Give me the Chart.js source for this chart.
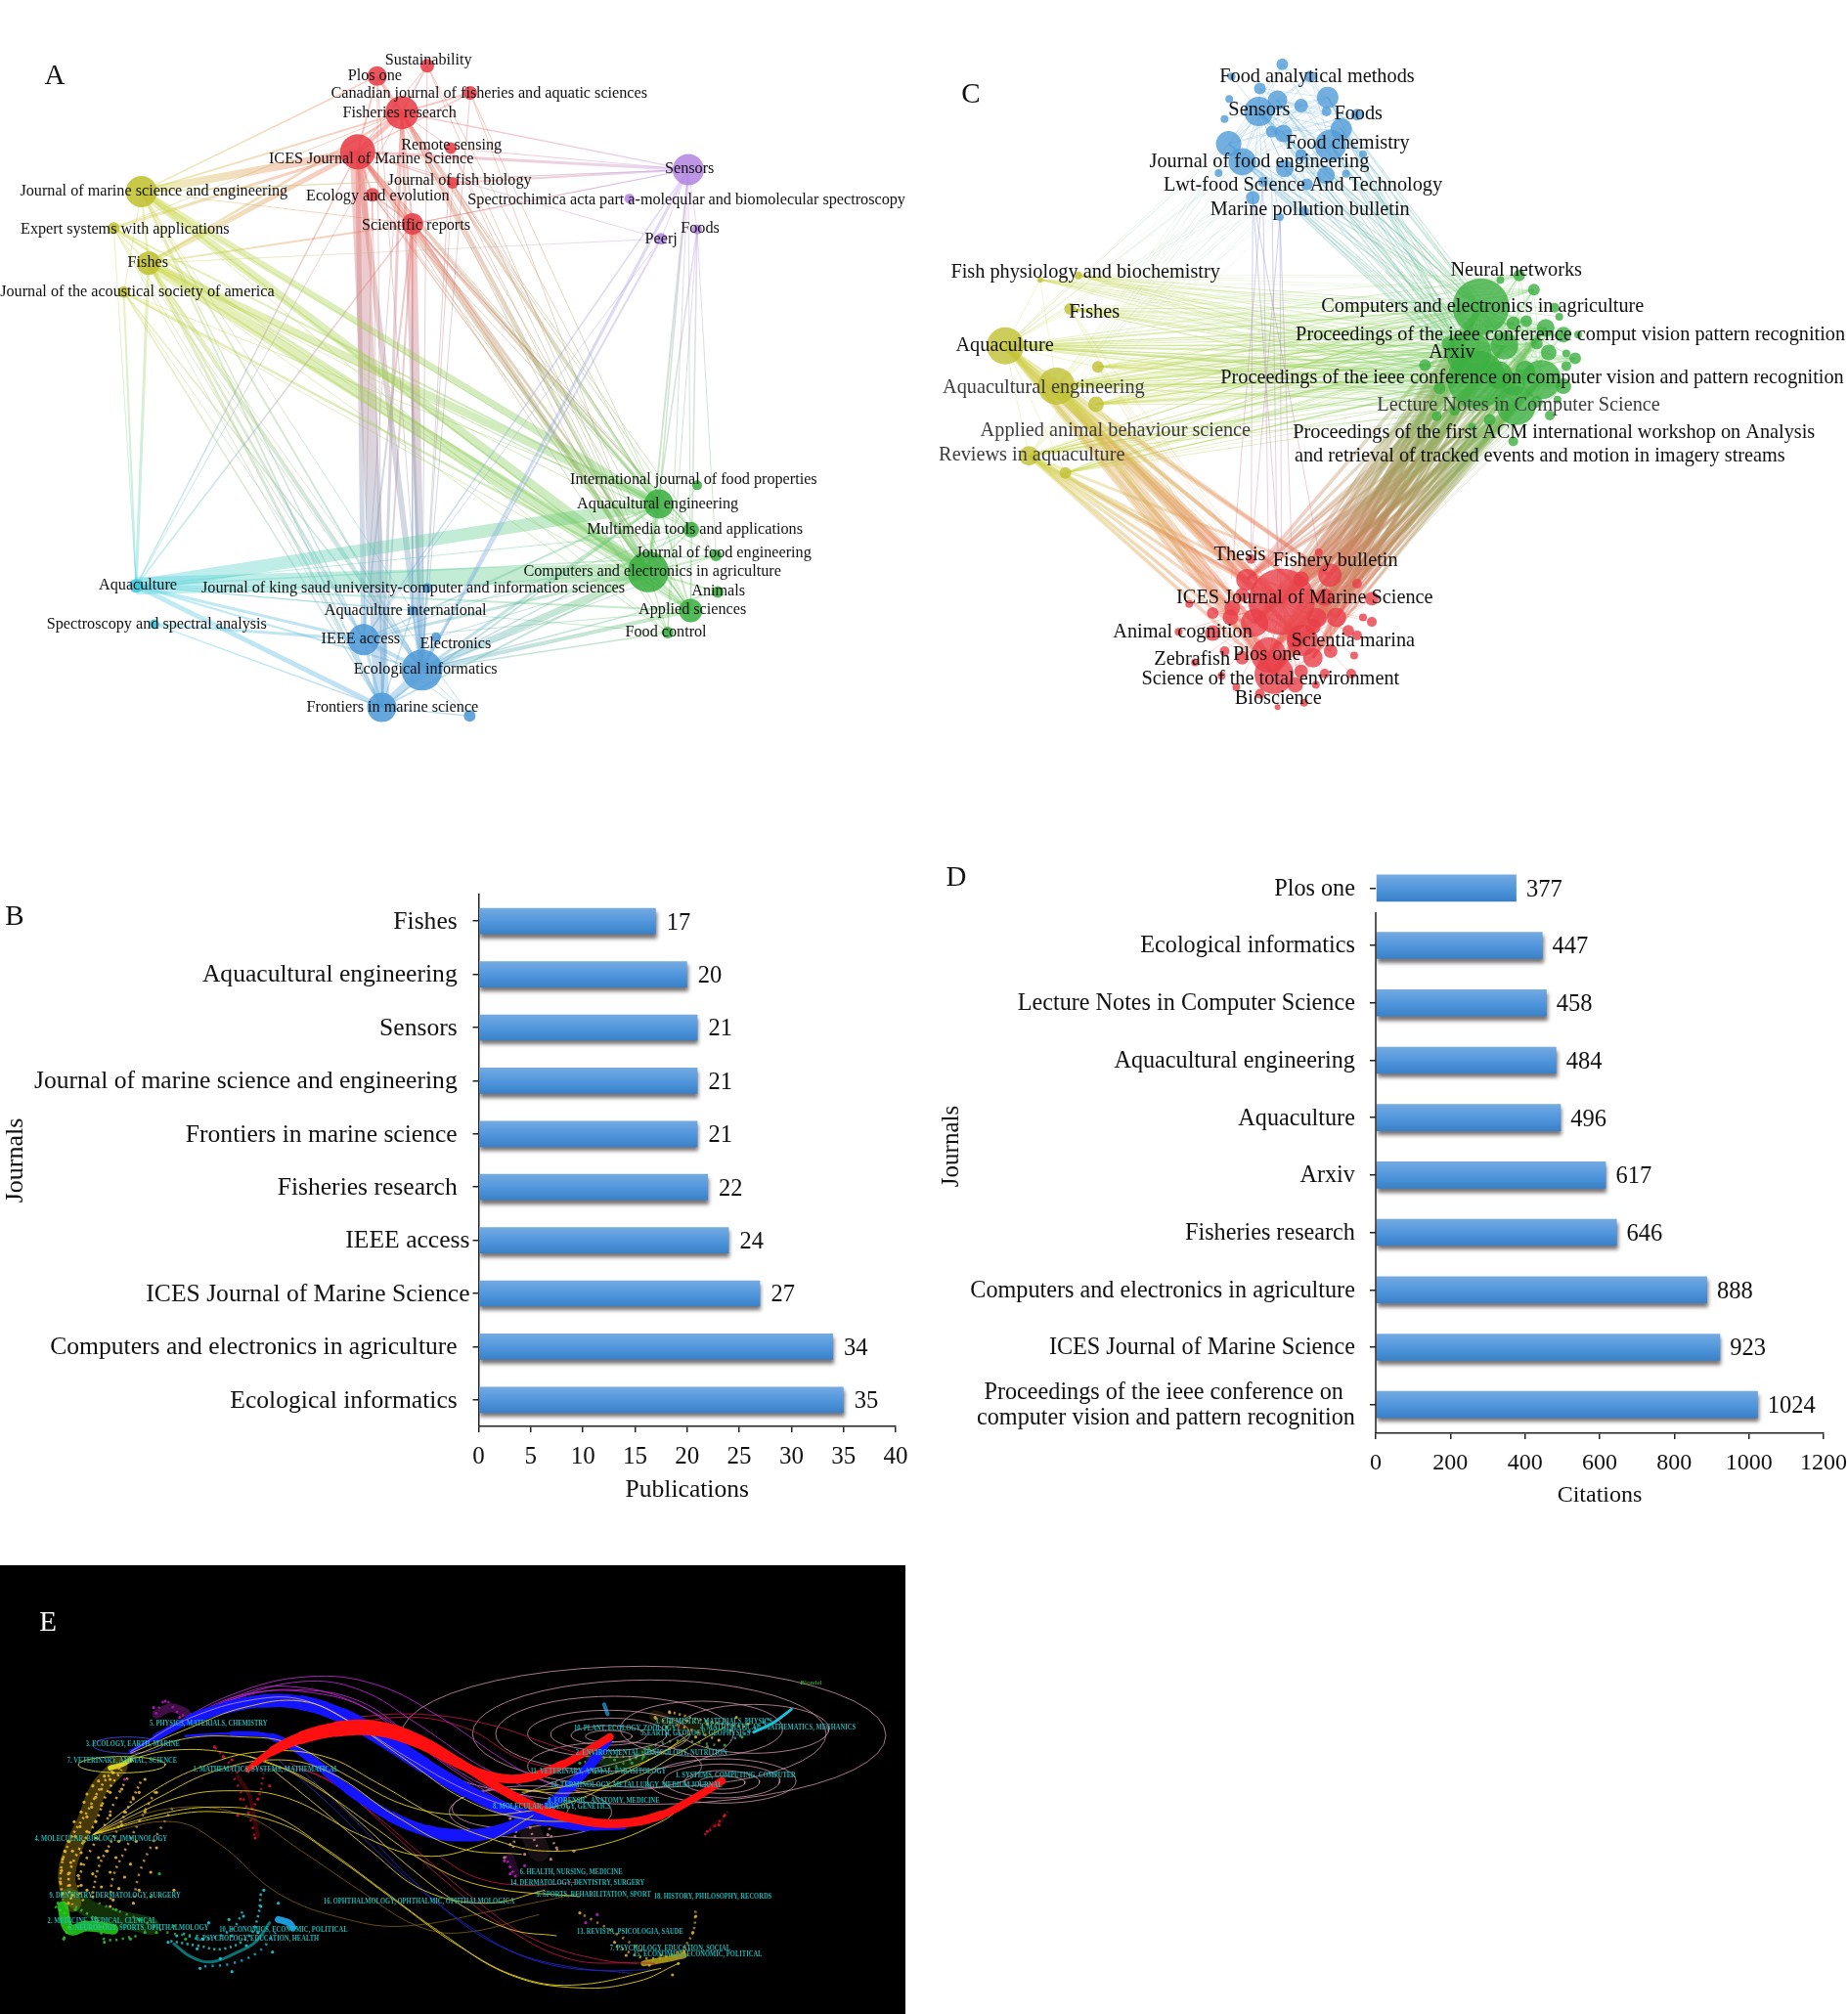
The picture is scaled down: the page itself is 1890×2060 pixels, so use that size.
<!DOCTYPE html>
<html><head><meta charset="utf-8">
<script src="https://cdn.jsdelivr.net/npm/chart.js@4"></script>
<style>html,body{margin:0;padding:0;background:#fff;width:1890px;height:2060px;overflow:hidden;position:relative}canvas{position:absolute;display:block}</style>
</head><body>
<script>
const SERIF='"Liberation Serif","Times New Roman",serif';
/* ---------- Panel B ---------- */
const bJournals=['Fishes','Aquacultural engineering','Sensors','Journal of marine science and engineering','Frontiers in marine science','Fisheries research','IEEE access','ICES Journal of Marine Science','Computers and electronics in agriculture','Ecological informatics'];
const bPublications=[17,20,21,21,21,22,24,27,34,35];
const bTicks=[0,5,10,15,20,25,30,35,40];
/* ---------- Panel D ---------- */
const dJournals=['Plos one','Ecological informatics','Lecture Notes in Computer Science','Aquacultural engineering','Aquaculture','Arxiv','Fisheries research','Computers and electronics in agriculture','ICES Journal of Marine Science',['Proceedings of the ieee conference on','computer vision and pattern recognition']];
const dCitations=[377,447,458,484,496,617,646,888,923,1024];
const dTicks=[0,200,400,600,800,1000,1200];
const nearAxis=['IEEE access','ICES Journal of Marine Science'];
/* ---------- Panel A network ---------- */
const groupRGB={red:'232,62,72',yellow:'192,192,50',purple:'180,135,225',green:'60,175,65',cyan:'60,200,220',blue:'80,155,215'};
const edgeRGB={red:'238,105,95',yellow:'205,215,70',purple:'190,150,230',green:'105,200,95',cyan:'80,210,225',blue:'95,170,220'};
const aNodes=[['ICES',607,262,18,'red'],['FR',682,178,17,'red'],['PLOS',640,100,10,'red'],['SUS',725,78,7,'red'],['CAN',798,136,7,'red'],['RS',765,254,6,'red'],['JFB',768,328,6,'red'],['EE',632,354,7,'red'],['SR',700,416,11,'red'],
['JMSE',240,347,16,'yellow'],['EXP',193,425,6,'yellow'],['FISH',252,500,12,'yellow'],['JASA',210,562,6,'yellow'],
['SEN',1168,300,16,'purple'],['SPEC',1068,362,5,'purple'],['PEER',1122,448,6,'purple'],['FOOD',1183,428,5,'purple'],
['IJFP',1183,975,5,'green'],['AE',1118,1015,15,'green'],['MTA',1173,1070,8,'green'],['JFE',1215,1125,6,'green'],['CEA',1100,1160,21,'green'],['ANI',1218,1203,6,'green'],['APP',1172,1243,12,'green'],['FC',1133,1290,6,'green'],
['AQ',231,1190,7,'cyan'],['SSA',262,1272,5,'cyan'],
['IEEE',617,1305,16,'blue'],['ELE',740,1300,5,'blue'],['EI',716,1370,21,'blue'],['FMS',648,1450,15,'blue'],['UNK',797,1468,6,'blue'],['KS',725,1195,5,'blue'],['AI',700,1243,5,'blue']];
const aEdges=`ICES-FMS-16 ICES-IEEE-5 ICES-EI-6 SR-EI-8 SR-IEEE-2 SR-FMS-2 FR-ICES-5 FR-FMS-3 FR-EI-3 FR-IEEE-1 EE-ICES-2 JMSE-ICES-8 FISH-ICES-5 EXP-ICES-3 JMSE-PLOS-1.5 JMSE-FR-2 FISH-FR-2.5 EXP-FR-1 JMSE-SR-1 FISH-SR-2 JMSE-CEA-9 JMSE-AE-7 FISH-CEA-12 FISH-AE-8 FISH-APP-2 EXP-CEA-3 EXP-AE-2 JASA-CEA-2.5 JMSE-APP-2 FISH-MTA-1.5 FISH-EI-4 FISH-FMS-3 FISH-IEEE-2.5 JMSE-EI-2 JMSE-IEEE-1.5 JMSE-FMS-2 JASA-FMS-1.5 JASA-EI-1.5 JASA-AQ-2 FISH-AQ-3 EXP-AQ-1 EXP-EI-1 AQ-CEA-18 AQ-AE-13 AQ-EI-2 AQ-IEEE-3 AQ-FMS-5 AQ-SR-1.5 AQ-ICES-1.5 AQ-FR-1 AQ-APP-2 AQ-JFE-1.5 AQ-MTA-1 AQ-FC-1 EI-CEA-7 EI-AE-3 EI-APP-4 EI-FC-1.5 IEEE-CEA-3 IEEE-AE-2 FMS-CEA-2 FMS-AE-2 FMS-EI-8 IEEE-EI-4 IEEE-FMS-3 SSA-IEEE-3 SSA-FMS-1.5 FMS-UNK-1.5 EI-UNK-1 IEEE-UNK-1 ICES-CEA-4 ICES-AE-3 FR-CEA-4 FR-AE-3 SR-CEA-4 SR-AE-2 SR-APP-1.5 FR-APP-1 ICES-APP-1.5 EE-CEA-1.5 RS-CEA-1 SEN-ICES-3 SEN-FR-1.5 SEN-SR-1 SEN-JMSE-1 SEN-EI-3 SEN-IEEE-1.5 SEN-CEA-2 SEN-AE-1.5 SEN-APP-1 SEN-RS-1 SEN-JFB-2 PEER-EI-2 PEER-FISH-1 PEER-ICES-1 PEER-IEEE-1 FOOD-APP-1.5 FOOD-CEA-1.5 FOOD-FC-1 SEN-FOOD-1 SEN-PEER-1 SEN-FC-1 FOOD-JFE-1 PLOS-FR-3 PLOS-ICES-2 SUS-FR-1.5 CAN-FR-2 CAN-ICES-1.5 SUS-ICES-1 ICES-SR-4 FR-SR-2 EE-SR-2 JFB-ICES-1.5 PLOS-FMS-1 CAN-EI-1 SUS-EI-1 PLOS-EI-1 EE-FMS-1 RS-EI-1 CAN-CEA-1 JFB-CEA-1 SUS-CEA-1 CEA-AE-4 CEA-APP-3 CEA-JFE-2 CEA-FC-1.5 AE-APP-2 CEA-MTA-1.5 CEA-ANI-2 CEA-IJFP-1 MTA-AE-1 EI-JFE-1 EI-ANI-1.5 EI-MTA-1.5 IEEE-MTA-1 IEEE-APP-1 ELE-CEA-1 ELE-EI-2 KS-EI-1 KS-CEA-1 AI-EI-1.5 AI-FMS-1.5 AI-CEA-1 AQ-KS-1 AQ-AI-1 JMSE-JASA-1 EXP-FISH-1.5 JMSE-FISH-2 JMSE-SEN-1 FR-RS-1 SR-SEN-1 FR-MTA-1 ICES-MTA-1 SR-JFE-1 RS-APP-1 JMSE-MTA-1 EXP-APP-1 JASA-AE-1 JASA-APP-1 FISH-JFE-1 FISH-FC-1 JMSE-FC-1 EE-AE-1 EE-APP-1 JFB-AE-1 CAN-AE-1 PLOS-CEA-1 SUS-AE-1 FR-JFE-1 FR-FC-1 ICES-FC-1 SR-MTA-1.5 FISH-UNK-1 JMSE-AI-1 JASA-IEEE-1 EXP-IEEE-1 EXP-FMS-1 SR-AI-1 EE-IEEE-1 JFB-EI-1`.split(' ');
const aLabels=[['Sustainability',727,66],['Plos one',636,100],['Canadian journal of fisheries and aquatic sciences',830,138],['Fisheries research',678,180],['Remote sensing',766,248],['ICES Journal of Marine Science',630,278],['Sensors',1170,298],['Journal of fish biology',780,324],['Journal of marine science and engineering',261,347],['Ecology and evolution',641,356],['Spectrochimica acta part a-moleqular and biomolecular spectroscopy',1165,365],['Expert systems with applications',212,428],['Scientific reports',706,420],['Foods',1188,427],['Peerj',1122,448],['Fishes',251,499],['Journal of the acoustical society of america',233,561],['International journal of food properties',1177,963],['Aquacultural engineering',1116,1016],['Multimedia tools and applications',1179,1069],['Journal of food engineering',1228,1120],['Computers and electronics in agriculture',1107,1160],['Journal of king saud university-computer and information sciences',701,1195],['Aquaculture',234,1190],['Animals',1219,1202],['Aquaculture international',688,1243],['Applied sciences',1175,1241],['Spectroscopy and spectral analysis',266,1272],['Food control',1130,1290],['IEEE access',612,1303],['Electronics',773,1314],['Ecological informatics',722,1369],['Frontiers in marine science',666,1450]];
/* ---------- Panel C network ---------- */
const cBlue=[[568,183,15],[690,258,16],[540,295,14],[517,255,13],[685,152,11],[708,222,11],[600,158,10],[610,232,9],[612,310,9],[682,325,9],[558,375,7],[640,170,7],[608,78,6],[655,105,6],[735,190,6],[590,228,6],[570,132,6],[650,345,6],[683,183,5],[645,405,5],[518,155,4],[510,200,4],[522,105,4],[604,418,4],[716,322,4],[745,278,4],[500,320,4],[575,340,5],[640,280,6]];
const cYellow=[[138,705,19],[225,795,19],[178,950,10],[292,835,8],[240,988,6],[295,752,6],[248,623,6],[262,548,4],[197,558,3]];
const cGreen=[[945,618,29],[938,780,30],[925,722,23],[1005,838,20],[1048,780,20],[985,705,14],[1020,760,10],[1055,665,9],[1085,680,8],[1085,795,8],[1000,655,7],[1010,548,6],[1035,580,6],[1105,733,6],[850,748,6],[875,800,6],[1022,650,6],[1040,700,6],[960,870,6],[1040,830,6],[1070,620,5],[1090,750,5],[870,862,5],[1000,918,5],[1062,860,5],[900,850,5],[978,558,4],[1078,640,4],[1110,680,4],[1090,722,4],[930,885,4],[1075,825,4],[1060,720,8],[975,770,14],[1000,790,12],[890,700,7]];
const cRed=[[607,1275,34],[585,1394,18],[594,1437,20],[642,1361,16],[561,1322,14],[548,1226,11],[689,1216,12],[700,1310,10],[667,1311,10],[660,1400,10],[660,1330,8],[490,1345,8],[520,1310,8],[630,1360,8],[760,1268,7],[690,1385,7],[640,1430,7],[630,1460,8],[540,1400,7],[490,1300,6],[523,1289,8],[720,1340,6],[555,1180,5],[735,1235,5],[760,1320,5],[735,1350,5],[725,1435,5],[570,1480,5],[510,1385,5],[680,1435,5],[670,1165,4],[745,1310,4],[450,1280,4],[432,1342,4],[730,1395,4],[665,1460,4],[645,1500,4],[530,1465,4],[460,1410,4],[505,1440,4],[600,1510,3],[680,1265,9],[640,1225,8],[540,1260,7]];
const cBundles=[['yellow',9,'green',18,.075,.42],['yellow',3,'red',8,.27,.36],['yellow',7,'red',4,.06,.26],['green',8,'red',10,.2,.36],['green',20,'red',4,.08,.22],['blue',9,'green',5,.07,.32],['blue',12,'yellow',3,.05,.2]];
const cVerticals=[[[558,375],[555,1180]],[[558,375],[607,1270]],[[575,340],[585,1200]],[[604,418],[607,1270]],[[604,418],[625,1200]],[[575,340],[522,1225]],[[558,375],[670,1165]],[[604,418],[555,1180]],[[590,330],[600,1230]]];
const cLabels=[['Food analytical methods',667,105],['Sensors',569,180],['Foods',737,188],['Food chemistry',719,254],['Journal of food engineering',569,296],['Lwt-food Science And Technology',643,348],['Marine pollution bulletin',655,402],['Fish physiology and biochemistry',274,542],['Fishes',289,630],['Aquaculture',137,705],['Aquacultural engineering',203,798],['Applied animal behaviour science',325,895],['Reviews in aquaculture',183,948],['Neural networks',1005,537],['Computers and electronics in agriculture',948,618],['Proceedings of the ieee conference comput vision pattern recognition',1097,681],['Arxiv',896,720],['Proceedings of the ieee conference on computer vision and pattern recognition',1032,777],['Lecture Notes in Computer Science',1009,838],['Proceedings of the first ACM international workshop on Analysis',1069,898],['and retrieval of tracked events and motion in imagery streams',1045,952],['Thesis',536,1170],['Fishery bulletin',698,1183],['ICES Journal of Marine Science',646,1267],['Animal cognition',439,1342],['Scientia marina',728,1362],['Plos one',582,1393],['Zebrafish',455,1405],['Science of the total environment',588,1448],['Bioscience',601,1492]];
const cGreyLabels=['Aquacultural engineering','Applied animal behaviour science','Reviews in aquaculture','Lecture Notes in Computer Science'];
/* ---------- Panel E overlay map ---------- */
const eBlueRibbons=[[[225,575,3],[270,530,6],[330,475,9],[390,440,10],[450,420,11],[520,425,12],[590,465,13],[660,535,13],[730,615,12],[800,690,11],[870,750,10],[940,785,8],[1010,805,6],[1075,803,3]],
[[320,527,2],[400,520,4],[470,530,6],[530,590,7],[600,690,8],[675,775,9],[740,820,10],[800,832,10],[860,818,10],[930,765,9],[990,670,8],[1030,590,6],[1050,540,3]]];
const eRedRibbons=[[[427,630,4],[470,578,5],[520,540,6],[580,516,7],[650,514,7],[720,550,7],[790,612,7],[850,652,7],[910,655,7],[970,615,6],[1020,565,6],[1052,530,6]],
[[427,630,4],[470,568,5],[520,524,6],[580,496,7],[650,494,7],[720,534,7],[790,606,7],[860,685,7],[930,750,7],[1000,785,7],[1070,795,7],[1140,770,6],[1200,715,6],[1245,665,6]]];
const eMagentaArcs=[[[280,510],[400,400],[530,345],[650,370],[760,470],[860,590],[930,660],[1000,700]],[[290,500],[400,415],[520,360],[620,385],[720,490],[820,610],[900,680]],[[300,490],[420,405],[510,385],[620,420],[720,540],[830,660],[920,720]],[[300,495],[420,400],[560,400],[660,470],[760,600],[860,700],[960,760]],[[310,490],[430,390],[500,375],[600,415],[680,500],[780,630],[880,740],[940,790]]];
const eCrimsonArcs=[[[430,628],[540,640],[640,760],[720,880],[820,1030],[920,1150],[1040,1215],[1130,1225]],[[500,610],[590,690],[680,830],[760,960],[860,1100],[980,1210],[1100,1225]],[[600,470],[720,460],[840,490],[960,560],[1040,600]],[[560,520],[680,470],[800,500],[900,600],[1000,640]],[[760,900],[820,960],[900,985],[1000,975]]];
const eNavyArcs=[[[480,600],[570,740],[650,880],[740,1020],[860,1170],[1000,1240],[1130,1245]],[[520,630],[620,800],[700,950],[800,1100],[930,1220],[1090,1255]]];
const eYellowArcs=[[[160,830],[260,700],[350,620],[450,575],[560,590],[650,670],[760,780],[860,850],[940,880],[1040,860],[1140,790],[1180,740]],[[160,830],[280,710],[370,635],[480,600],[570,640],[680,770],[790,870],[900,890]],[[160,830],[300,720],[400,695],[500,720],[620,830],[730,895],[830,860],[920,770]],[[160,830],[280,765],[380,745],[470,770],[560,870],[660,1000],[760,1130],[880,1260],[1000,1300],[1100,1280],[1170,1225]],[[160,830],[280,775],[380,760],[490,800],[580,900],[680,1030],[790,1170],[900,1270],[1000,1290],[1140,1240]],[[430,590],[530,660],[620,790],[700,920],[790,1040],[880,1120],[960,1140]],[[470,630],[560,760],[640,880],[730,1000],[840,1040],[940,1000]],[[220,600],[300,570],[400,580],[480,620],[560,700],[640,800],[740,920],[840,990],[1000,1020]],[[225,580],[330,500],[420,440],[520,420],[600,480],[700,600],[800,720],[900,780],[1010,790]],[[225,590],[320,535],[420,530],[500,550],[600,650],[700,740],[800,770],[900,760],[1000,720],[1100,620],[1180,540]],[[900,700],[980,680],[1060,640],[1130,590],[1190,520]],[[880,690],[1000,700],[1100,650],[1170,580],[1250,500]]];
const eBrownArcs=[[[170,830],[300,790],[380,860],[480,1010],[600,1090],[700,1110],[860,1060],[1000,1010]],[[160,830],[290,750],[420,770],[520,880],[620,1000],[720,1110],[800,1130],[930,1075]]];
const ePaleArcs=[[[225,575],[330,470],[450,412],[530,420],[620,500],[700,590],[800,690],[900,760]],[[880,720],[1000,640],[1100,590],[1180,520]]];
const eOrbits=[[1110,525,418,212],[1120,520,305,165],[1060,520,205,115],[1050,520,140,72],[1050,522,100,50],[1050,525,65,30],[1050,528,40,18],[1245,665,128,68],[1245,665,100,52],[1245,668,65,35],[1245,670,40,20],[1300,505,130,75],[1210,505,140,85],[915,760,140,80],[880,750,100,60],[1060,620,150,75]];
const eColdOrbits=[[210,615,75,25],[220,555,60,25]];
const eGlowBands=[['250,200,30',.28,18,[[205,620],[170,690],[150,780],[125,880],[115,960],[125,1040]]],['40,230,30',.78,11,[[108,1050],[120,1120],[150,1110],[195,1120]]],['90,220,40',.22,18,[[120,1020],[170,1070],[260,1110]]],['20,230,230',.5,3,[[300,1165],[330,1205],[365,1220],[410,1190],[440,1160],[465,1100]]],['30,170,240',.9,7,[[480,1090],[498,1100],[505,1115]]],['230,230,40',.9,5,[[190,625],[210,615],[225,600]]],['190,40,200',.35,9,[[270,460],[295,440],[320,455]]],['210,20,30',.3,4,[[410,650],[430,710],[440,790],[445,835]]],['200,130,150',.12,22,[[905,770],[915,820],[930,880]]],['200,40,200',.2,8,[[880,900],[890,950]]],['220,170,30',.15,12,[[1130,465],[1170,490],[1230,510]]],['30,200,230',.95,3,[[1300,515],[1335,485],[1365,445]]],['30,170,240',.7,4,[[1042,430],[1048,460]]],['60,170,40',.25,12,[[1020,590],[1080,610],[1120,570]]],['215,190,30',.75,6,[[1110,1225],[1150,1212],[1180,1200]]],['190,20,40',.25,4,[[1225,810],[1245,785]]]];
/* speckled trails of small journal dots, read as dashed paths through each point cloud */
const eSpeckle=[['240,190,40',[[200,620],[175,680],[150,760],[120,850],[105,940],[108,1030]]],['250,205,40',[[210,630],[185,700],[165,790],[135,880],[118,970],[125,1045]]],['240,185,40',[[225,640],[200,720],[178,810],[150,900],[135,985],[145,1040]]],['225,175,60',[[245,660],[220,750],[195,840],[170,930],[160,1010]]],['215,165,70',[[270,690],[240,790],[215,880],[195,960],[190,1040]]],['200,155,80',[[300,740],[265,850],[240,950],[230,1040]]],
['60,210,40',[[95,1050],[120,1090],[110,1150]]],['60,200,60',[[130,1050],[170,1100],[180,1150],[240,1140]]],['60,170,60',[[170,1040],[240,1090],[290,1130],[340,1140]]],['40,200,200',[[290,1155],[340,1170],[385,1180],[430,1140],[445,1080],[450,1010]]],['30,190,210',[[310,1130],[350,1150],[400,1120],[420,1060]]],['20,180,220',[[345,1235],[400,1225],[445,1190],[475,1130]]],
['200,140,160',[[890,750],[890,810],[885,870]]],['205,140,155',[[915,745],[915,810],[930,880]]],['195,130,150',[[945,760],[950,830],[965,890]]],['190,40,200',[[870,890],[880,930],[890,960]]],['175,30,190',[[265,470],[285,420],[310,460],[335,470]]],['200,25,40',[[400,640],[420,720],[435,800],[440,845]]],['190,25,40',[[455,640],[445,720],[425,770]]],['190,25,45',[[370,560],[390,600],[415,650]]],
['215,170,40',[[1125,470],[1180,500],[1240,540]]],['210,165,40',[[1150,450],[1215,480],[1290,500]]],['60,170,50',[[1000,610],[1060,590],[1120,600]]],['70,160,60',[[1025,640],[1070,615],[1150,545],[1240,555]]],['30,170,180',[[1260,540],[1300,505],[1330,470]]],['205,170,40',[[1060,1170],[1120,1210],[1190,1180]]],['190,140,40',[[1000,1070],[1060,1130],[1110,1190]]],['180,140,40',[[1200,1060],[1195,1130],[1170,1200]]],['190,30,45',[[1255,760],[1235,800],[1215,830]]]];
const eDots=[['235,185,40',[[205,625],[195,640],[180,650],[170,665],[190,660],[160,680],[175,690],[150,705],[165,715],[190,700],[145,730],[158,745],[175,740],[210,690],[230,720],[140,760],[150,775],[128,790],[165,790],[138,805],[150,820],[190,770],[215,760],[240,700],[130,835],[118,850],[145,850],[165,840],[205,850],[250,760],[112,880],[125,880],[140,885],[108,905],[122,915],[140,920],[170,900],[200,900],[106,940],[118,950],[135,955],[160,950],[190,945],[215,960],[104,975],[120,985],[140,985],[175,990],[205,995],[108,1010],[125,1015],[160,1020],[195,1030],[230,1040],[260,945],[225,920],[270,870],[300,1000],[240,1000],[118,1040],[250,660],[270,700],[210,800],[235,850],[185,880],[150,1000],[190,1050]]],
['40,190,50',[[100,1040],[130,1060],[165,1085],[200,1060],[240,1090],[270,1130],[300,1110],[225,1150],[180,1160],[110,1150],[260,1020],[275,950],[250,1130],[320,1150]]],
['30,200,220',[[290,1160],[305,1140],[340,1180],[350,1150],[380,1210],[400,1140],[425,1170],[420,1080],[450,1050],[455,1000],[480,1040],[395,1090],[360,1100],[345,1240],[400,1250],[470,1190],[445,1130]]],
['200,130,150',[[880,780],[930,775],[890,820],[945,830],[880,860],[960,870],[905,890],[950,905],[990,880],[890,745],[935,740],[870,900]]],
['190,30,200',[[265,440],[285,420],[310,470],[330,460],[880,950],[870,910],[905,925],[1010,1100],[1030,1075],[215,660]]],
['210,25,40',[[370,560],[385,590],[415,720],[410,770],[445,720],[465,680],[440,840],[400,600],[1240,800],[1220,820],[1250,770]]],
['215,175,40',[[1130,470],[1155,455],[1185,480],[1220,490],[1260,510],[1290,490],[1200,530],[1240,540],[1150,500],[1270,470],[1120,1230],[1140,1200],[1170,1225],[1180,1190],[1060,1160],[1080,1200],[1000,1070],[1200,1080],[1195,1130],[1160,1260]]],
['60,170,50',[[1000,610],[1030,590],[1060,600],[1090,610],[1110,590],[1220,560],[1250,555],[1280,530]]]];
const eLabels=[['5. PHYSICS, MATERIALS, CHEMISTRY',258,488],['3. ECOLOGY, EARTH, MARINE',148,551],['7. VETERINARY, ANIMAL, SCIENCE',116,604],['1. MATHEMATICS, SYSTEMS, MATHEMATICAL',333,630],['4. MOLECULAR, BIOLOGY, IMMUNOLOGY',60,842],['9. DENTISTRY, DERMATOLOGY, SURGERY',85,1017],['2. MEDICINE, MEDICAL, CLINICAL',82,1096],['5. NEUROLOGY, SPORTS, OPHTHALMOLOGY',118,1116],['10. ECONOMICS, ECONOMIC, POLITICAL',378,1121],['6. PSYCHOLOGY, EDUCATION, HEALTH',338,1148],['16. OPHTHALMOLOGY, OPHTHALMIC, OPHTHALMOLOGICA',558,1036],['3. CHEMISTRY, MATERIALS, PHYSICS',1130,483],['4. MATHEMATICAL, MATHEMATICS, MECHANICS',1208,502],['10. PLANT, ECOLOGY, ZOOLOGY',990,505],['5. EARTH, GEOLOGY, GEOPHYSICS',1105,520],['2. ENVIRONMENTAL, TOXICOLOGY, NUTRITION',993,580],['11. VETERINARY, ANIMAL, PARASITOLOGY',915,637],['1. SYSTEMS, COMPUTING, COMPUTER',1165,648],['14. TERMINOLOGY, METALLURGY, MEDIUM JOURNAL',950,677],['8. FORENSIC, ANATOMY, MEDICINE',945,725],['8. MOLECULAR, BIOLOGY, GENETICS',850,743],['6. HEALTH, NURSING, MEDICINE',897,945],['14. DERMATOLOGY, DENTISTRY, SURGERY',880,977],['9. SPORTS, REHABILITATION, SPORT',925,1013],['18. HISTORY, PHILOSOPHY, RECORDS',1128,1020],['13. REVISTA, PSICOLOGIA, SAUDE',995,1128],['7. PSYCHOLOGY, EDUCATION, SOCIAL',1052,1180],['15. ECONOMICS, ECONOMIC, POLITICAL',1093,1198]];

/* ---------- helpers ---------- */
Chart.defaults.animation=false;
Chart.defaults.font.family=SERIF;
Chart.defaults.color='#111';
function place(left,top,w,h,bg){const c=document.createElement('canvas');c.width=w;c.height=h;c.style.cssText=`left:${left}px;top:${top}px;width:${w}px;height:${h}px;`+(bg?`background:${bg};`:'');document.body.appendChild(c);return c;}
function panelOptions(xMax,yMin,yMax){return{responsive:false,animation:false,events:[],layout:{padding:0,autoPadding:false},plugins:{legend:{display:false},tooltip:{enabled:false}},
 scales:{x:{type:'linear',min:0,max:xMax,display:false},y:{type:'linear',min:yMin,max:yMax,reverse:true,display:false}}};}
function edgeSet(a,b,ca,cb,width,alpha){let g=null;
 return {type:'line',data:[{x:a[0],y:a[1]},{x:b[0],y:b[1]}],borderWidth:width,pointRadius:0,tension:0,fill:false,
  borderColor:c=>{if(g) return g;const s=c.chart.scales;const solid=`rgba(${ca},${alpha})`; if(!s.x||!s.y) return solid;
   const q=[s.x.getPixelForValue(a[0]),s.y.getPixelForValue(a[1]),s.x.getPixelForValue(b[0]),s.y.getPixelForValue(b[1])];
   if(!q.every(Number.isFinite)) return solid;
   g=c.chart.ctx.createLinearGradient(q[0],q[1],q[2],q[3]);
   g.addColorStop(0,solid);g.addColorStop(1,`rgba(${cb},${alpha})`);return g;}};}
function nodeSet(pts,rgb,alpha){return{type:'bubble',data:pts.map(p=>({x:p[0],y:p[1],r:p[2]})),backgroundColor:`rgba(${rgb},${alpha})`,borderWidth:0,hoverRadius:0};}
function textPlugin(id,items,fontPx,colorOf,hScale,align){return{id,afterDatasetsDraw(ch){const c=ch.ctx,s=ch.scales;c.save();c.font=fontPx;c.textBaseline='middle';c.textAlign=align||'center';
 items.forEach(t=>{c.fillStyle=colorOf(t[0]);c.save();c.translate(s.x.getPixelForValue(t[1]),s.y.getPixelForValue(t[2]));c.scale(hScale||1,1);c.fillText(t[0],0,0);c.restore();});c.restore();}};}
function letter(id,ch0,x,y,col){return{id,afterDraw(ch){const c=ch.ctx;c.save();c.font='29px '+SERIF;c.fillStyle=col||'#111';c.textAlign='center';c.textBaseline='middle';c.fillText(ch0,x,y);c.restore();}};}

/* ---------- Panel A ---------- */
(function(){const idx={};aNodes.forEach(n=>idx[n[0]]=n);
 const ds=[];aEdges.forEach(e=>{const [p,q,w]=e.split('-');const a=idx[p],b=idx[q];ds.push(edgeSet([a[1],a[2]],[b[1],b[2]],edgeRGB[a[4]],edgeRGB[b[4]],+w,.38));});
 Object.keys(groupRGB).forEach(g=>ds.push(nodeSet(aNodes.filter(n=>n[4]===g).map(n=>[n[1],n[2],n[3]]),groupRGB[g],.88)));
 new Chart(place(0,30,945,750),{type:'line',data:{datasets:ds.reverse()},options:panelOptions(1568,0,1568),
  plugins:[textPlugin('aText',aLabels,'16.2px '+SERIF,()=>'#111'),letter('aL','A',56,48)]});})();

/* ---------- Panel C ---------- */
(function(){const g={blue:cBlue,yellow:cYellow,green:cGreen,red:cRed};const ds=[];
 cBundles.forEach(([ga,na,gb,nb,k,al])=>{g[ga].slice(0,na).forEach(a=>g[gb].slice(0,nb).forEach(b=>ds.push(edgeSet(a,b,edgeRGB[ga],edgeRGB[gb],k*Math.sqrt(a[2]*b[2]),al))));});
 cVerticals.forEach(([a,b])=>ds.push(edgeSet(a,b,'120,130,220','235,120,150',1,.38)));
 ['blue','yellow','green','red'].forEach(n=>{const arr=g[n];arr.slice(1).forEach(p=>ds.push(edgeSet(arr[0],p,edgeRGB[n],edgeRGB[n],.8,.35)));arr.slice(1,8).forEach((a,i)=>arr.slice(i+8,i+14).forEach(b=>ds.push(edgeSet(a,b,edgeRGB[n],edgeRGB[n],.7,.35))));});
 Object.keys(g).forEach(n=>ds.push(nodeSet(g[n],groupRGB[n],.8)));
 new Chart(place(945,30,945,720),{type:'line',data:{datasets:ds.reverse()},options:panelOptions(1568,0,1568),
  plugins:[textPlugin('cText',cLabels,'20.3px '+SERIF,t=>cGreyLabels.includes(t)?'#3c3c3c':'#111'),letter('cL','C',48,67)]});})();

/* ---------- Bars ---------- */
function barGradient(c,frac){const s=c.chart.scales; if(!s.x||!s.y||!Number.isInteger(c.dataIndex)) return '#4f93d8'; const yc=s.y.getPixelForValue(c.dataIndex);const h=s.y.height/s.y.ticks.length*frac/2;
 if(!Number.isFinite(yc)||!Number.isFinite(h)) return '#4f93d8';
 const g=c.chart.ctx.createLinearGradient(0,yc-h,0,yc+h);g.addColorStop(0,'#74aae2');g.addColorStop(.55,'#4f95dc');g.addColorStop(1,'#3a80c6');return g;}
const shadow={id:'barShadow',beforeDatasetDraw(ch,a){const c=ch.ctx;c.save();if(a.index===0){c.shadowColor='rgba(40,30,30,.62)';c.shadowBlur=4;c.shadowOffsetX=1;c.shadowOffsetY=4;}},afterDatasetDraw(ch){ch.ctx.restore();}};
function valueLabels(id,values,gap,font){return{id,afterDatasetsDraw(ch){const c=ch.ctx,s=ch.scales;c.save();c.font=font;c.fillStyle='#111';c.textAlign='left';c.textBaseline='middle';
 values.forEach((v,i)=>c.fillText(String(v),s.x.getPixelForValue(v)+gap,s.y.getPixelForValue(i)+2));c.restore();}};}
function axisStyle(){return{color:'#222',lineWidth:1.5,drawOnChartArea:false,tickLength:6,offset:false};}
const fixFit=(prop,size)=>s=>{s[prop]=size;s.paddingTop=0;s.paddingBottom=0;s.paddingLeft=0;s.paddingRight=0;};

new Chart(place(0,880,945,680),{type:'bar',
 data:{labels:bJournals,datasets:[{data:bPublications,barPercentage:.49,categoryPercentage:1,backgroundColor:c=>barGradient(c,.49)}]},
 options:{indexAxis:'y',responsive:false,animation:false,events:[],layout:{padding:{top:35,right:29,left:0,bottom:0},autoPadding:false},plugins:{legend:{display:false},tooltip:{enabled:false}},
  scales:{
   x:{type:'linear',min:0,max:40,afterBuildTicks:s=>{s.ticks=bTicks.map(v=>({value:v}));},afterFit:fixFit('height',101),border:{color:'#222',width:1.5},grid:axisStyle(),ticks:{font:{size:25},color:'#111',padding:10,maxRotation:0,callback:v=>String(v)},title:{display:true,text:'Publications',font:{size:25.6},color:'#111',padding:{top:0,bottom:20}}},
   y:{type:'category',afterFit:fixFit('width',489.5),border:{color:'#222',width:1.5},grid:axisStyle(),ticks:{font:{size:25.6},color:'#111',padding:3,labelOffset:1,autoSkip:false,callback(v){const l=this.getLabelForValue(v);return nearAxis.includes(l)?l:l+'  ';}},title:{display:true,text:'Journals',font:{size:26},color:'#111',padding:{top:1,bottom:0}}}
  }},
 plugins:[shadow,valueLabels('bVals',bPublications,11,'24.5px '+SERIF),letter('bL','B',15,58)]});

new Chart(place(945,870,945,690),{type:'bar',
 data:{labels:dJournals,datasets:[{data:dCitations.map((v,i)=>i===0?null:v),barPercentage:.47,categoryPercentage:1,backgroundColor:c=>barGradient(c,.47)},{data:dCitations.map((v,i)=>i===0?v:null),barPercentage:.47,categoryPercentage:1,backgroundColor:c=>barGradient(c,.47)}]},
 options:{indexAxis:'y',responsive:false,animation:false,events:[],layout:{padding:{top:9,right:25,left:0,bottom:0},autoPadding:false},plugins:{legend:{display:false},tooltip:{enabled:false}},
  scales:{
   x:{type:'linear',stacked:true,min:0,max:1200,afterBuildTicks:s=>{s.ticks=dTicks.map(v=>({value:v}));},afterFit:fixFit('height',94),border:{color:'#222',width:1.5},grid:axisStyle(),ticks:{font:{size:24},color:'#111',padding:10,maxRotation:0,callback:v=>String(v)},title:{display:true,text:'Citations',font:{size:24},color:'#111',padding:{top:0,bottom:16}}},
   y:{type:'category',stacked:true,afterFit:fixFit('width',462),border:{display:false},grid:axisStyle(),ticks:{font:{size:24.2,lineHeight:1.1},color:'#111',padding:3,labelOffset:1,autoSkip:false,callback(v){const l=this.getLabelForValue(v);if(Array.isArray(l))return [l[0]+'    ',l[1]+'  '];return l+'  ';}},title:{display:true,text:'Journals',font:{size:25},color:'#111',padding:{top:13,bottom:0}}}
  }},
 plugins:[shadow,valueLabels('dVals',dCitations,10,'24.5px '+SERIF),letter('dL','D',33,28),
  {id:'dAxisLine',afterDatasetsDraw(ch){const c=ch.ctx,s=ch.scales.y;c.save();c.strokeStyle='#222';c.lineWidth=1.5;c.beginPath();c.moveTo(ch.chartArea.left,s.getPixelForValue(.42));c.lineTo(ch.chartArea.left,ch.chartArea.bottom);c.stroke();c.restore();}}]});

/* ---------- Panel E ---------- */
(function(){const ds=[];
 const path=pts=>pts.map(p=>({x:p[0],y:p[1],w:p[2]}));
 const arc=(pts,col,w)=>({type:'line',data:path(pts),borderColor:col,borderWidth:w,pointRadius:0,tension:.4,fill:false});
 eGlowBands.forEach(([rgb,a,w,pts])=>ds.push({...arc(pts,`rgba(${rgb},${a})`,w),borderCapStyle:'round'}));
 eSpeckle.forEach(([rgb,pts],i)=>ds.push({...arc(pts,`rgba(${rgb},.82)`,2.6),borderDash:[2.2,3.4+(i%3)],borderDashOffset:i}));
 eDots.forEach(([rgb,pts])=>ds.push({type:'line',showLine:false,data:path(pts),pointRadius:1.6,pointBorderWidth:0,pointBackgroundColor:`rgba(${rgb},.9)`}));
 const orbit=(o,col,w)=>{const p=[];for(let i=0;i<=48;i++){const t=i/48*2*Math.PI;p.push([o[0]+o[2]*Math.cos(t),o[1]+o[3]*Math.sin(t)]);}return{type:'line',data:path(p),borderColor:col,borderWidth:w,pointRadius:0,tension:0,fill:false};};
 eOrbits.forEach(o=>ds.push(orbit(o,'rgba(205,150,170,.8)',1)));
 eColdOrbits.forEach((o,i)=>ds.push(orbit(o,i?'rgba(70,70,230,.9)':'rgba(215,215,60,.9)',1)));
 eBrownArcs.forEach(a=>ds.push(arc(a,'rgba(120,90,20,.85)',1)));
 eNavyArcs.forEach(a=>ds.push(arc(a,'rgba(35,35,190,.9)',1)));
 eCrimsonArcs.forEach(a=>ds.push(arc(a,'rgba(190,20,70,.85)',1)));
 eMagentaArcs.forEach(a=>ds.push(arc(a,'rgba(190,40,210,.85)',1)));
 eBlueRibbons.forEach(r=>ds.push({type:'line',data:path(r),borderColor:'#1414ff',borderWidth:8,pointRadius:0,tension:.4,fill:false,borderCapStyle:'round',segment:{borderWidth:c=>c.p0.raw.w*1.25}}));
 eYellowArcs.forEach(a=>ds.push(arc(a,'rgba(225,205,30,.9)',1)));
 ePaleArcs.forEach(a=>ds.push(arc(a,'rgba(240,200,230,.6)',1)));
 eRedRibbons.forEach(r=>ds.push({type:'line',data:path(r),borderColor:'#ff1010',borderWidth:8,pointRadius:0,tension:.4,fill:false,borderCapStyle:'round',segment:{borderWidth:c=>c.p0.raw.w*1.3}}));
 new Chart(place(0,1601,926,459,'#000'),{type:'line',data:{datasets:ds.reverse()},options:panelOptions(1561.7,3,1380),
  plugins:[textPlugin('eText',eLabels,'bold 8.4px '+SERIF,()=>'rgba(30,190,190,.95)',.78,'left'),
   {id:'eExtra',afterDatasetsDraw(ch){const c=ch.ctx,s=ch.scales;c.save();c.font='7px '+SERIF;c.fillStyle='#3fc32a';c.textAlign='left';c.textBaseline='middle';c.fillText('Blondel',s.x.getPixelForValue(1380),s.y.getPixelForValue(363));c.restore();}},
   letter('eL','E',49,59,'#fff')]});})();
</script>
</body></html>
